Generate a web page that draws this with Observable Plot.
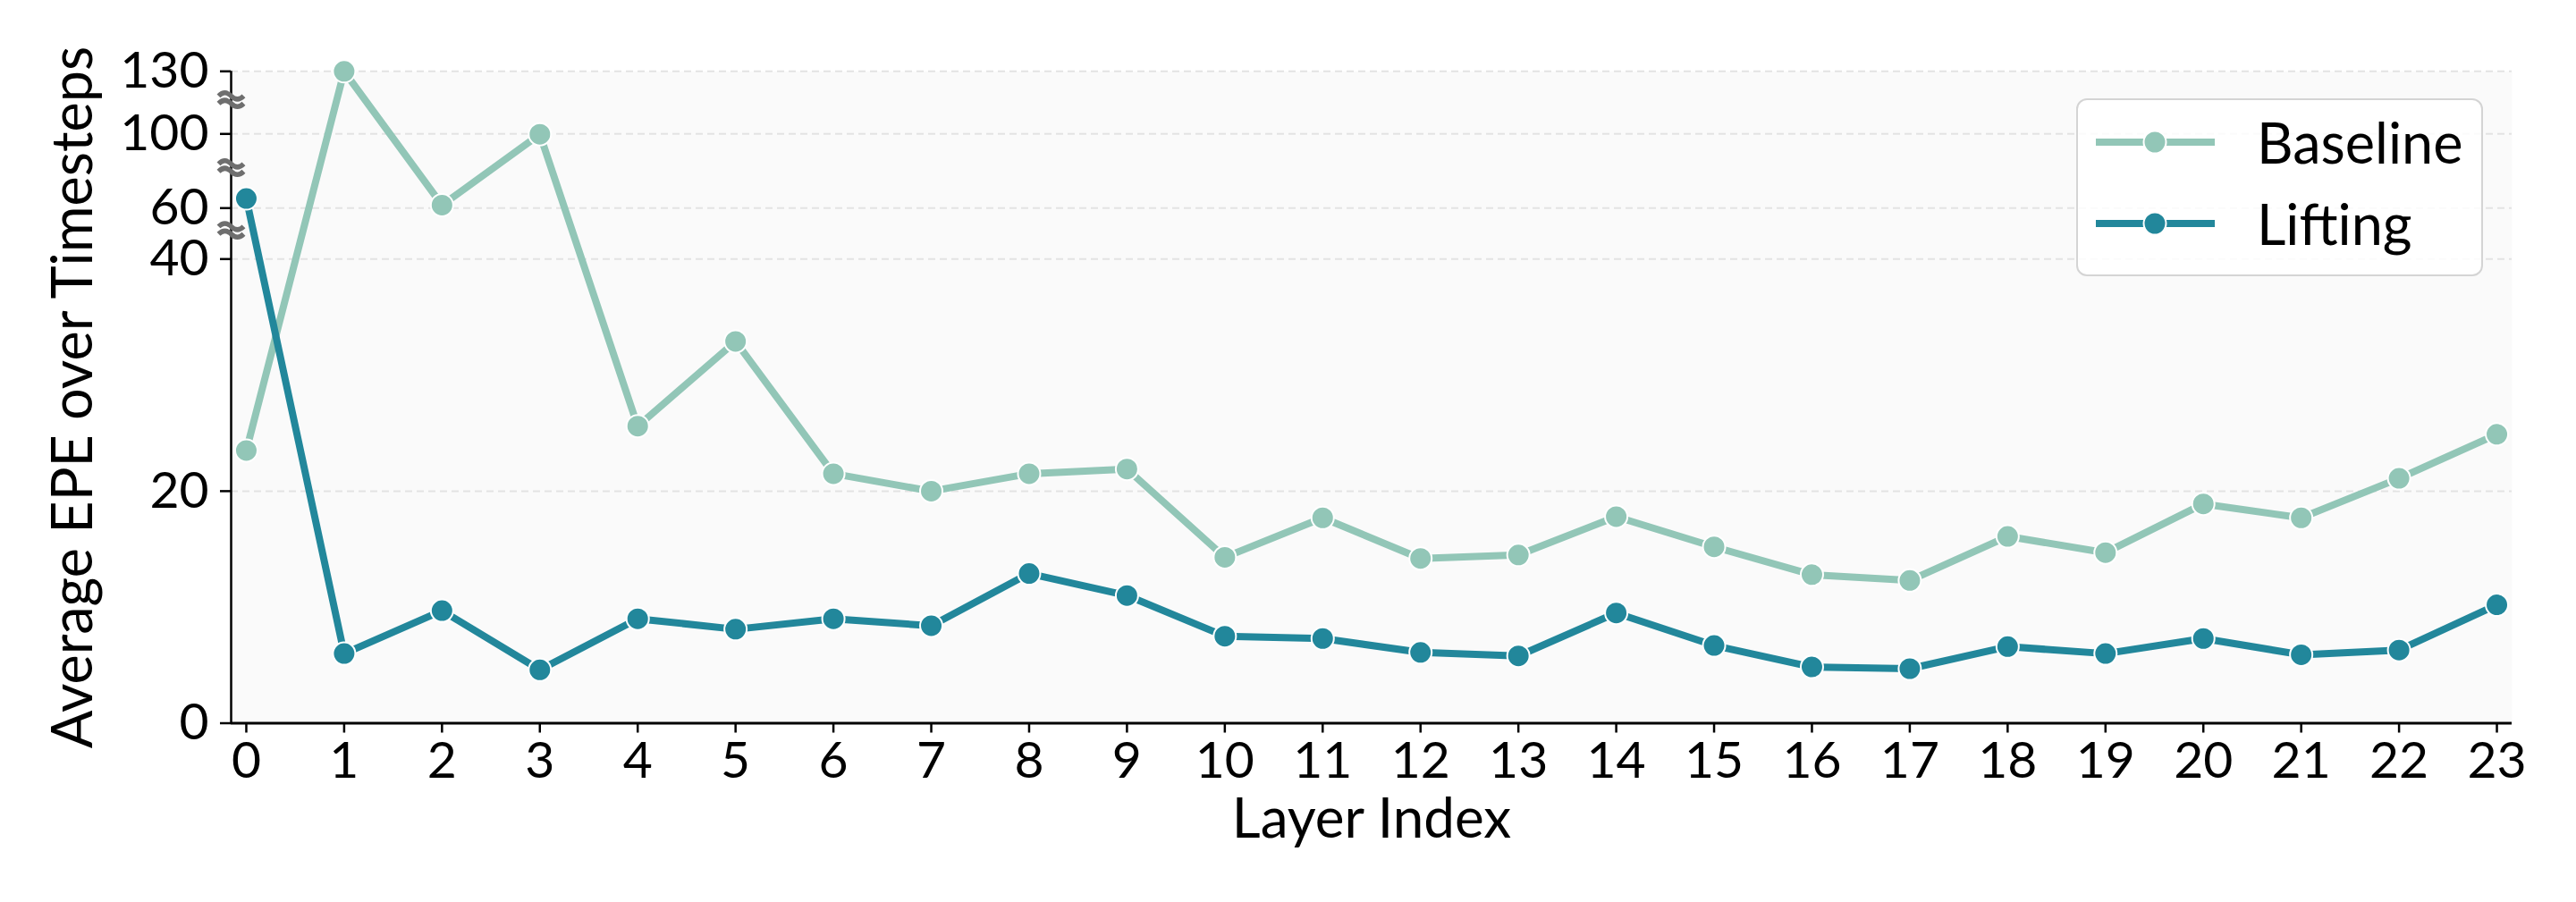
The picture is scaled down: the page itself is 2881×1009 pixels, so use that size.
<!DOCTYPE html>
<html>
<head>
<meta charset="utf-8">
<script src="https://cdn.jsdelivr.net/npm/d3@7"></script>
<script src="https://cdn.jsdelivr.net/npm/@observablehq/plot@0.6"></script>
<style>
  html, body { margin: 0; padding: 0; background: #ffffff; }
  #wrap { position: relative; width: 2881px; height: 1009px; font-family: "Lato", "Noto Sans", sans-serif; }
  #legend {
    position: absolute; left: 2322px; top: 110px; width: 451px; height: 195px;
    border: 2px solid #d4d4d4; border-radius: 12px; background: rgba(255,255,255,0.85);
  }
  .row { position: absolute; left: 0; height: 80px; width: 100%; }
  .row svg { position: absolute; left: 18px; top: 0; }
  .row span { position: absolute; left: 200px; top: 0; line-height: 80px; font-size: 63px; color: #000; }
</style>
</head>
<body>
<div id="wrap">
  <div id="chart"></div>
  <div id="legend"></div>
</div>
<script>
const layers = d3.range(0, 24);
const baseline = [23.5, 130, 61.6, 99.8, 25.6, 32.9, 21.5, 20.0, 21.5, 21.9, 14.3, 17.7, 14.2, 14.5, 17.8, 15.2, 12.8, 12.3, 16.1, 14.7, 18.9, 17.7, 21.1, 24.9];
const lifting  = [65.2, 6.0, 9.7, 4.6, 9.0, 8.1, 9.0, 8.4, 12.9, 11.0, 7.5, 7.3, 6.1, 5.8, 9.5, 6.7, 4.85, 4.7, 6.6, 6.0, 7.3, 5.9, 6.3, 10.2];
const seriesNames = ["Baseline", "Lifting"];
const seriesColors = ["#92c6b7", "#22879b"];
const yTicks = [0, 20, 40, 60, 100, 130];
const yBreaks = [116.4, 81.8, 51.3];
// broken axis: value breakpoints and their relative heights on the axis
const yBreakDomain = [0, 40, 60, 100, 130];
const yBreakHeight = [0, 519.2, 576.2, 659.2, 729.2];
const xDomain = [-0.155, 23.155];

// piecewise (broken-axis) mapping from value to axis position
const brk = d3.scaleLinear().domain(yBreakDomain).range(yBreakHeight);

// "≈"-like break symbol: two stacked tildes
const breakSymbol = {
  draw(ctx, size) {
    const r = Math.sqrt(size / Math.PI);
    for (const off of [-0.3 * r, 0.3 * r]) {
      ctx.moveTo(-r, off);
      ctx.quadraticCurveTo(-0.5 * r, off - 0.5 * r, 0, off);
      ctx.quadraticCurveTo(0.5 * r, off + 0.5 * r, r, off);
    }
  }
};

const data = [];
layers.forEach((l, i) => {
  data.push({layer: l, value: baseline[i], series: "Baseline"});
  data.push({layer: l, value: lifting[i], series: "Lifting"});
});

const marks = [
  Plot.frame({fill: "#fafafa", stroke: "none"}),
  Plot.ruleY(yTicks.filter(t => t > 0), {y: d => brk(d), stroke: "#e3e3e3", strokeWidth: 2, strokeDasharray: "8,5"}),
];
seriesNames.forEach((s, k) => {
  const d = data.filter(r => r.series === s);
  marks.push(Plot.line(d, {x: "layer", y: r => brk(r.value), stroke: seriesColors[k], strokeWidth: 8}));
  marks.push(Plot.dot(d, {x: "layer", y: r => brk(r.value), r: 12.5, fill: seriesColors[k], stroke: "#ffffff", strokeWidth: 2}));
});
marks.push(
  Plot.ruleX([xDomain[0]], {stroke: "#000", strokeWidth: 2.5}),
  Plot.ruleY([0], {stroke: "#000", strokeWidth: 3}),
  Plot.axisX({ticks: layers, tickSize: 11, tickPadding: 10, fontSize: 57, label: null, strokeWidth: 2.5, tickFormat: d => String(d)}),
  Plot.axisY({ticks: yTicks.map(t => brk(t)), tickSize: 12, tickPadding: 13, fontSize: 57, label: null, strokeWidth: 2.5,
              tickFormat: (p) => String(yTicks[yTicks.map(t => brk(t)).findIndex(q => Math.abs(q - p) < 1e-6)])}),
  Plot.dot(yBreaks, {y: d => brk(d), frameAnchor: "left", symbol: breakSymbol, r: 14, fill: "none", stroke: "#6e6e6e", strokeWidth: 5.5}),
  Plot.text(["Layer Index"], {frameAnchor: "bottom", textAnchor: "middle", dy: 128, lineAnchor: "bottom", fontSize: 62, fill: "#000"}),
  Plot.text(["Average EPE over Timesteps"], {frameAnchor: "left", textAnchor: "middle", dx: -156, rotate: -90, lineAnchor: "bottom", fontSize: 63, fill: "#000"})
);

const chart = Plot.plot({
  width: 2881,
  height: 1009,
  marginLeft: 258,
  marginRight: 72,
  marginTop: 79.3,
  marginBottom: 200.5,
  style: {fontFamily: "Lato, 'Noto Sans', sans-serif", background: "#ffffff", overflow: "visible"},
  x: {domain: xDomain},
  y: {domain: [0, yBreakHeight[yBreakHeight.length - 1]]},
  marks
});
document.getElementById("chart").appendChild(chart);

const legend = document.getElementById("legend");
seriesNames.forEach((s, k) => {
  const row = document.createElement("div");
  row.className = "row";
  row.style.top = (k === 0 ? 7 : 98) + "px";
  row.innerHTML = `<svg width="140" height="80"><line x1="2" x2="135" y1="40" y2="40" stroke="${seriesColors[k]}" stroke-width="8"/><circle cx="68" cy="40" r="12.5" fill="${seriesColors[k]}" stroke="#fff" stroke-width="2"/></svg><span>${s}</span>`;
  legend.appendChild(row);
});
</script>
</body>
</html>
